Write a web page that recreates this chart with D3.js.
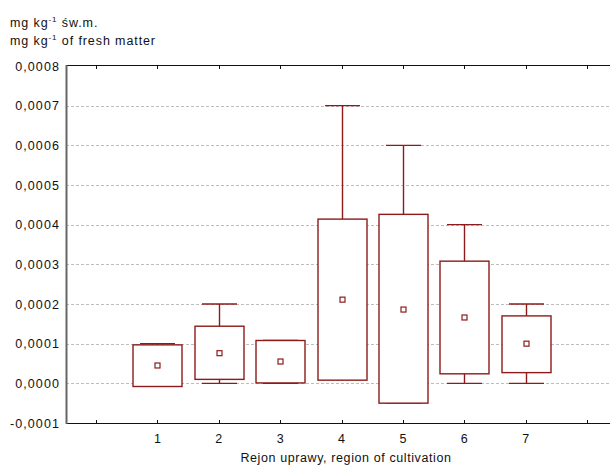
<!DOCTYPE html>
<html>
<head>
<meta charset="utf-8">
<title>Boxplot</title>
<style>
  body{margin:0;background:#fff;}
  svg{display:block;font-family:"Liberation Sans",Arial,sans-serif;}
</style>
</head>
<body>
<script src="https://cdn.jsdelivr.net/npm/d3@7"></script>
<script>
// dane
var regions = [1, 2, 3, 4, 5, 6, 7];
var whiskerLow  = [0.0000,  0.0000,  0.0000,  0.00001, -0.00005, 0.0000,   0.0000];
var boxLow      = [-0.000008, 0.00001, 0.000001, 0.000008, -0.00005, 0.000024, 0.000027];
var means       = [0.000045, 0.000076, 0.000055, 0.000211, 0.000186, 0.000166, 0.0001];
var boxHigh     = [0.000097, 0.000144, 0.000108, 0.000414, 0.000426, 0.000308, 0.00017];
var whiskerHigh = [0.0001,   0.0002,   0.000108, 0.0007,   0.0006,   0.0004,   0.0002];
var yTicks = [-0.0001, 0, 0.0001, 0.0002, 0.0003, 0.0004, 0.0005, 0.0006, 0.0007, 0.0008];
var xTicks = [0, 1, 2, 3, 4, 5, 6, 7, 8];

var W = 610, H = 466;
var pLeft = 66, pRight = 610, pTop = 65, pBottom = 423;
var col = '#8e1b1b';

var svg = d3.select('body').append('svg').attr('width', W).attr('height', H);

var x = d3.scaleLinear().domain([0, 8]).range([96, 587]);
var y = d3.scaleLinear().domain([-0.0001, 0.0008]).range([pBottom, pTop + 1]);

var fmt = function(v){ return d3.format('.4f')(v).replace('.', ',').replace('−', '-'); };

// siatka
svg.append('g').selectAll('line')
  .data(yTicks.filter(function(d){ return d > -0.0001 && d < 0.0008; }))
  .enter().append('line')
  .attr('x1', pLeft).attr('x2', pRight)
  .attr('y1', function(d){ return Math.round(y(d)) + 0.5; })
  .attr('y2', function(d){ return Math.round(y(d)) + 0.5; })
  .attr('stroke', '#bdbdbd').attr('stroke-dasharray', '3,2');

// ramka
svg.append('line').attr('x1', pLeft).attr('x2', pRight).attr('y1', pTop + 0.5).attr('y2', pTop + 0.5)
  .attr('stroke', '#111');
svg.append('line').attr('x1', pLeft).attr('x2', pRight).attr('y1', pBottom + 0.5).attr('y2', pBottom + 0.5)
  .attr('stroke', '#111');
svg.append('line').attr('x1', pLeft + 0.5).attr('x2', pLeft + 0.5).attr('y1', pTop).attr('y2', pBottom + 1)
  .attr('stroke', '#666').attr('stroke-width', 2);

// os Y - etykiety
svg.append('g').selectAll('text').data(yTicks).enter().append('text')
  .attr('x', 60).attr('y', function(d){ return y(d) + 4.5; })
  .attr('text-anchor', 'end').attr('font-size', 12.5).attr('letter-spacing', 1.1).attr('fill', '#111')
  .text(fmt);

// os X - znaczniki
var xt = svg.append('g');
xt.selectAll('line.b').data(xTicks).enter().append('line').attr('class', 'b')
  .attr('x1', function(d){ return Math.round(x(d)) + 0.5; })
  .attr('x2', function(d){ return Math.round(x(d)) + 0.5; })
  .attr('y1', pBottom).attr('y2', pBottom - 3).attr('stroke', '#111');
xt.selectAll('line.t').data(xTicks).enter().append('line').attr('class', 't')
  .attr('x1', function(d){ return Math.round(x(d)) + 0.5; })
  .attr('x2', function(d){ return Math.round(x(d)) + 0.5; })
  .attr('y1', pTop + 1).attr('y2', pTop + 4).attr('stroke', '#111');
xt.selectAll('text').data(regions).enter().append('text')
  .attr('x', function(d){ return x(d); }).attr('y', 443)
  .attr('text-anchor', 'middle').attr('font-size', 12.5).attr('fill', '#111')
  .text(function(d){ return d; });

// wykresy ramkowe
var bw = 49, cap = 35;
var g = svg.append('g').attr('stroke', col).attr('stroke-width', 1.4).attr('fill', 'none');
regions.forEach(function(r, i){
  var cx = Math.round(x(r)) + 0.5;
  // wasy
  g.append('line').attr('x1', cx).attr('x2', cx).attr('y1', y(whiskerHigh[i])).attr('y2', y(boxHigh[i]));
  g.append('line').attr('x1', cx).attr('x2', cx).attr('y1', y(whiskerLow[i])).attr('y2', y(boxLow[i]));
  g.append('line').attr('x1', cx - cap / 2).attr('x2', cx + cap / 2)
    .attr('y1', y(whiskerHigh[i])).attr('y2', y(whiskerHigh[i]));
  g.append('line').attr('x1', cx - cap / 2).attr('x2', cx + cap / 2)
    .attr('y1', y(whiskerLow[i])).attr('y2', y(whiskerLow[i]));
  // ramka
  g.append('rect').attr('x', cx - bw / 2).attr('width', bw)
    .attr('y', y(boxHigh[i])).attr('height', y(boxLow[i]) - y(boxHigh[i]))
    .attr('fill', '#fff');
  // srednia
  g.append('rect').attr('x', cx - 2.5).attr('y', y(means[i]) - 2.5)
    .attr('width', 5).attr('height', 5).attr('fill', '#fff').attr('stroke-width', 1.2);
});

// opisy
var t1 = svg.append('text').attr('x', 10).attr('y', 27).attr('font-size', 12.5)
  .attr('letter-spacing', 0.9).attr('fill', '#111');
t1.append('tspan').text('mg kg');
t1.append('tspan').attr('font-size', 8).attr('dy', -5).text('-1');
t1.append('tspan').attr('dy', 5).text(' św.m.');
var t2 = svg.append('text').attr('x', 10).attr('y', 45).attr('font-size', 12.5)
  .attr('letter-spacing', 0.9).attr('fill', '#111');
t2.append('tspan').text('mg kg');
t2.append('tspan').attr('font-size', 8).attr('dy', -5).text('-1');
t2.append('tspan').attr('dy', 5).text(' of fresh matter');

svg.append('text').attr('x', 346).attr('y', 462).attr('text-anchor', 'middle')
  .attr('font-size', 12.5).attr('letter-spacing', 0.6).attr('fill', '#111')
  .text('Rejon uprawy, region of cultivation');
</script>
</body>
</html>
